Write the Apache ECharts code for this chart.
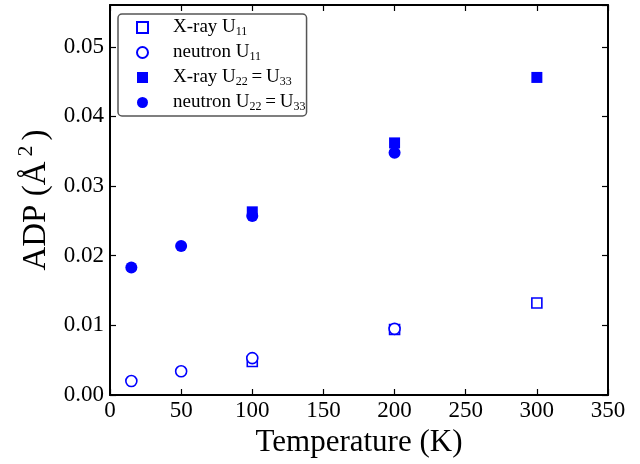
<!DOCTYPE html>
<html><head><meta charset="utf-8">
<script src="https://cdn.jsdelivr.net/npm/echarts@6/dist/echarts.min.js"></script>
<style>html,body{margin:0;padding:0;background:#fff}#c{width:640px;height:464px}</style>
</head><body><div id="c"></div>
<script>
const xrayU11T = [100, 200, 300];
const xrayU11 = [0.0048, 0.0094, 0.0132];
const neutU11T = [15, 50, 100, 200];
const neutU11 = [0.0020, 0.0034, 0.0053, 0.0095];
const xrayU22T = [100, 200, 300];
const xrayU22 = [0.0263, 0.0362, 0.0456];
const neutU22T = [15, 50, 100, 200];
const neutU22 = [0.0183, 0.0214, 0.0257, 0.0348];
const seriesNames = ['X-ray U11', 'neutron U11', 'X-ray U22=U33', 'neutron U22=U33'];
const legendLabels = {
  'X-ray U11': '{t|X-ray U}{s|11}',
  'neutron U11': '{t|neutron U}{s|11}',
  'X-ray U22=U33': '{t|X-ray U}{s|22}{t|\u2009=\u2009U}{s|33}',
  'neutron U22=U33': '{t|neutron U}{s|22}{t|\u2009=\u2009U}{s|33}'
};
const zip = (a, b) => a.map((v, i) => [v, b[i]]);
const blue = '#0000ff';
const font = 'Liberation Serif';
const chart = echarts.init(document.getElementById('c'), null, {renderer: 'canvas'});
const axisBase = {
  axisLine: {show: true, onZero: false, lineStyle: {color: '#000', width: 2}},
  axisTick: {show: true, inside: true, length: 6, lineStyle: {color: '#000', width: 1.2}},
  splitLine: {show: false}
};
chart.setOption({
  animation: false,
  backgroundColor: '#fff',
  grid: {left: 110, right: 32, top: 5, bottom: 69},
  legend: {
    orient: 'vertical', left: 118, top: 14,
    data: [
      {name: seriesNames[0], icon: 'rect'},
      {name: seriesNames[1], icon: 'circle'},
      {name: seriesNames[2], icon: 'rect'},
      {name: seriesNames[3], icon: 'circle'}
    ],
    itemWidth: 11, itemHeight: 11, itemGap: 4,
    padding: [3, 1, 3, 18],
    borderColor: '#555', borderWidth: 1.5, borderRadius: 4,
    formatter: n => legendLabels[n],
    textStyle: {
      padding: [0, 0, 0, 20],
      rich: {
        t: {fontFamily: font, fontSize: 19, color: '#000', lineHeight: 22},
        s: {fontFamily: font, fontSize: 12, color: '#000', padding: [9, 0, 0, 0], lineHeight: 22}
      }
    }
  },
  xAxis: [
    Object.assign({}, axisBase, {
      type: 'value', min: 0, max: 350, interval: 50, position: 'bottom',
      name: 'Temperature (K)', nameLocation: 'middle', nameGap: 30,
      nameTextStyle: {fontFamily: font, fontSize: 31, color: '#000'},
      axisLabel: {fontFamily: font, fontSize: 23, color: '#000', margin: 4}
    }),
    Object.assign({}, axisBase, {
      type: 'value', min: 0, max: 350, interval: 50, position: 'top',
      axisLabel: {show: false}
    })
  ],
  yAxis: [
    Object.assign({}, axisBase, {
      type: 'value', min: 0, max: 0.056, interval: 0.01, position: 'left',
      name: '{t|ADP (Å}{p|2}{t|)}', nameLocation: 'middle', nameGap: 53,
      nameTextStyle: {rich: {
        t: {fontFamily: font, fontSize: 33, color: '#000'},
        p: {fontFamily: font, fontSize: 22, color: '#000', padding: [0, 5, 20, 5]}
      }},
      axisLabel: {fontFamily: font, fontSize: 23, color: '#000', margin: 6,
        showMaxLabel: false, formatter: v => v.toFixed(2)}
    }),
    Object.assign({}, axisBase, {
      type: 'value', min: 0, max: 0.056, interval: 0.01, position: 'right',
      axisLabel: {show: false}
    })
  ],
  series: [
    {name: seriesNames[0], type: 'scatter', symbol: 'rect', symbolSize: 10,
      itemStyle: {color: '#fff', borderColor: blue, borderWidth: 1.6, opacity: 1},
      data: zip(xrayU11T, xrayU11), z: 3},
    {name: seriesNames[1], type: 'scatter', symbol: 'circle', symbolSize: 11,
      itemStyle: {color: '#fff', borderColor: blue, borderWidth: 1.6, opacity: 1},
      data: zip(neutU11T, neutU11), z: 4},
    {name: seriesNames[2], type: 'scatter', symbol: 'rect', symbolSize: 11,
      itemStyle: {color: blue, opacity: 1},
      data: zip(xrayU22T, xrayU22), z: 3},
    {name: seriesNames[3], type: 'scatter', symbol: 'circle', symbolSize: 12,
      itemStyle: {color: blue, opacity: 1},
      data: zip(neutU22T, neutU22), z: 4}
  ]
});
</script></body></html>
